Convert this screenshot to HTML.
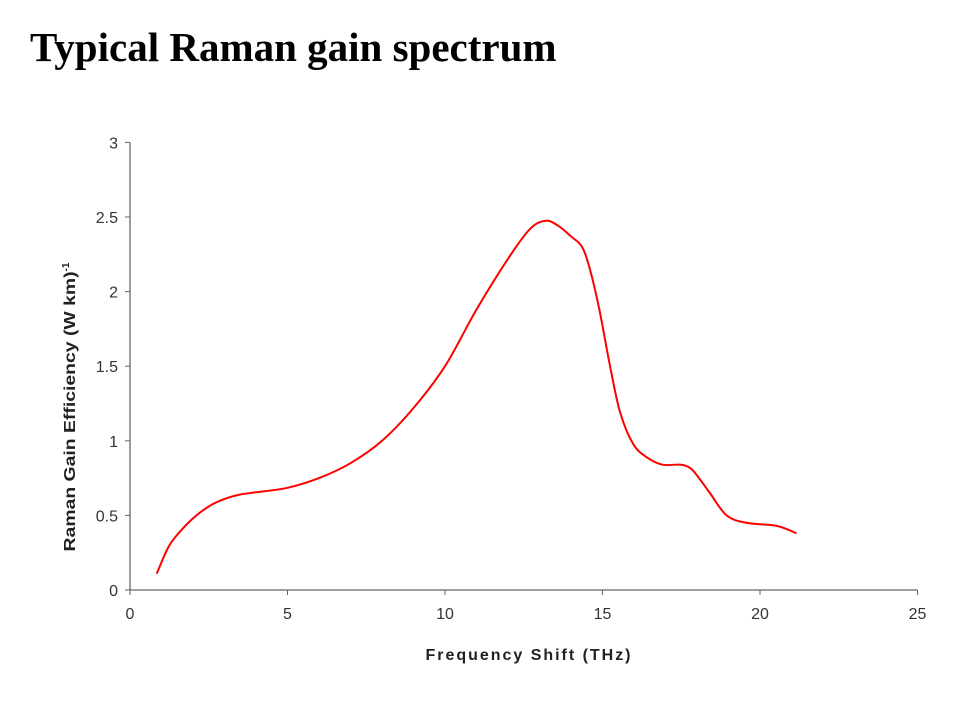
<!DOCTYPE html>
<html><head><meta charset="utf-8"><style>
body{margin:0;background:#fff;width:975px;height:696px;overflow:hidden}
svg text{font-family:"Liberation Sans",Arial,sans-serif}
</style></head><body>
<svg width="975" height="696">
<text x="30" y="61" style="font-family:'Liberation Serif',serif;font-weight:bold;font-size:41px">Typical Raman gain spectrum</text>
<g id="axes"></g>
<path id="curve" fill="none" stroke="#ff0000" stroke-width="2"/>
<text x="528" y="660" text-anchor="middle" font-weight="bold" font-size="16" fill="#222" textLength="205">Frequency Shift (THz)</text>
<text transform="translate(75,407) rotate(-90)" text-anchor="middle" font-weight="bold" font-size="16" fill="#222"><tspan textLength="280" lengthAdjust="spacingAndGlyphs">Raman Gain Efficiency (W km)</tspan><tspan dy="-6" font-size="10">-1</tspan></text>
</svg>
<script>
const freqs=[0.85,1.2,1.5,2,2.5,3,3.5,4,5,6,7,8,9,10,11,12,12.7,13.2,13.6,14,14.35,14.6,14.9,15.24,15.56,15.97,16.4,16.9,17.46,17.8,18.1,18.41,18.94,19.58,20.53,21.16];
const gains=[0.11,0.28,0.37,0.48,0.56,0.61,0.64,0.655,0.685,0.75,0.85,1.0,1.22,1.5,1.88,2.22,2.42,2.475,2.44,2.37,2.3,2.15,1.88,1.5,1.19,0.98,0.89,0.84,0.84,0.815,0.74,0.65,0.5,0.45,0.43,0.38];
const xTicks=[0,5,10,15,20,25];
const yTicks=[0,0.5,1,1.5,2,2.5,3];
const xs=v=>130+v*31.5, ys=v=>590-v*149.2;
const NS="http://www.w3.org/2000/svg";
const ax=document.getElementById('axes');
function el(t,a,txt){const e=document.createElementNS(NS,t);for(const k in a)e.setAttribute(k,a[k]);if(txt!==undefined)e.textContent=txt;ax.appendChild(e);return e;}
let e=el('line',{x1:xs(0),y1:ys(0),x2:xs(25),y2:ys(0),stroke:'#666','stroke-width':1.3});


e=el('line',{x1:xs(0),y1:ys(0),x2:xs(0),y2:ys(3),stroke:'#666','stroke-width':1.3});


xTicks.forEach(t=>{el('line',{x1:xs(t),x2:xs(t),y1:ys(0),y2:ys(0)+5,stroke:'#666'});
const tx=el('text',{x:xs(t),y:ys(0)+29,'text-anchor':'middle','font-size':16,fill:'#333'},String(t));

});
yTicks.forEach(t=>{el('line',{x1:xs(0)-5,x2:xs(0),y1:ys(t),y2:ys(t),stroke:'#666'});
const tx=el('text',{x:xs(0)-12,y:ys(t)+6,'text-anchor':'end','font-size':16,fill:'#333'},String(t));

});
const P=freqs.map((f,i)=>[xs(f),ys(gains[i])]);
let d='M'+P[0][0]+','+P[0][1];
for(let i=0;i<P.length-1;i++){const p0=P[Math.max(0,i-1)],p1=P[i],p2=P[i+1],p3=P[Math.min(P.length-1,i+2)];
d+=` C${p1[0]+(p2[0]-p0[0])/6},${p1[1]+(p2[1]-p0[1])/6} ${p2[0]-(p3[0]-p1[0])/6},${p2[1]-(p3[1]-p1[1])/6} ${p2[0]},${p2[1]}`;}
document.getElementById('curve').setAttribute('d',d);
</script>
</body></html>
